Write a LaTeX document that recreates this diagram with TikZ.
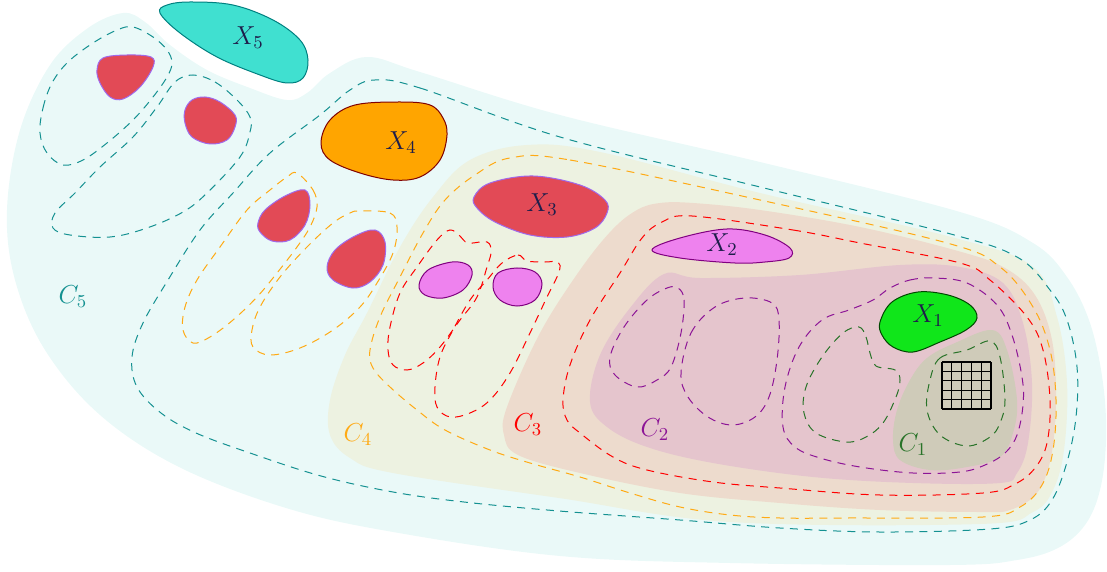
\RequirePackage{fix-cm}
\documentclass[tikz,border=0pt]{standalone}
\definecolor{cfive}{RGB}{234,249,248}
\definecolor{cfour}{RGB}{237,242,225}
\definecolor{cthree}{RGB}{237,219,205}
\definecolor{ctwo}{RGB}{229,197,205}
\definecolor{cone}{RGB}{207,203,185}
\definecolor{tealline}{RGB}{20,145,145}
\definecolor{orline}{RGB}{255,170,20}
\definecolor{vline}{RGB}{140,20,150}
\definecolor{gline}{RGB}{40,115,40}
\definecolor{xlab}{RGB}{30,30,75}
\definecolor{redblob}{RGB}{226,74,86}
\definecolor{redborder}{RGB}{160,105,235}
\definecolor{vblob}{RGB}{238,130,238}
\definecolor{vborder}{RGB}{128,0,128}
\definecolor{gblob}{RGB}{16,230,26}
\definecolor{tblob}{RGB}{64,224,208}
\definecolor{oblob}{RGB}{255,165,0}
\newcommand\shp[2]{\path[#1] plot[smooth cycle, tension=0.6] coordinates {#2};}
\tikzset{
  dsh/.style={line width=0.5pt, dash pattern=on 4pt off 3.2pt},
  blob/.style={line width=0.5pt},
  lab/.style={font=\fontsize{13}{15}\selectfont, text=xlab, inner sep=0pt},
  clab/.style={font=\fontsize{13}{15}\selectfont, inner sep=0pt},
}
\begin{document}
\begin{tikzpicture}[x=0.5pt,y=-0.5pt]
\useasboundingbox (0,0) rectangle (1107,572);
% regions
\shp{fill=cfive}{(123,13) (145,22) (170,45) (207,70) (250,88) (287,100) (307,93) (330,73) (367,57) (420,72) (560,115) (760,162) (960,212) (1033,243) (1067,277) (1090,323) (1103,383) (1106,440) (1100,490) (1085,525) (1058,548) (1017,560) (950,565) (730,563) (560,556) (393,532) (286,508) (179,467) (100,415) (45,350) (15,280) (7,210) (20,130) (50,65) (88,28)}
\shp{fill=cfour}{(527,145) (600,152) (760,193) (955,238) (1033,267) (1057,317) (1067,383) (1064,450) (1053,490) (1033,512) (980,524) (730,522) (559,498) (393,473) (350,458) (330,435) (330,400) (345,355) (367,313) (400,247) (433,197) (470,160)}
\shp{fill=cthree}{(660,203) (693,203) (760,210) (860,227) (958,251) (1005,268) (1035,295) (1052,340) (1056,400) (1051,457) (1037,493) (1010,510) (980,512) (880,510) (780,503) (680,493) (580,473) (518,455) (504,435) (507,407) (540,333) (580,270) (612,230) (637,210)}
\shp{fill=ctwo}{(664,274) (700,278) (800,275) (900,265) (960,267) (1003,283) (1023,323) (1032,383) (1028,443) (1017,473) (1000,483) (913,483) (813,477) (713,463) (647,447) (607,427) (590,402) (600,355) (630,308)}
\shp{fill=cone}{(992,330) (1007,350) (1017,400) (1013,433) (1000,457) (967,467) (930,470) (900,460) (893,440) (897,410) (910,380) (927,358) (955,343)}
% grid
\foreach \i in {0,...,5} {
  \draw[line width=0.55pt] ({942+\i*9.8},362) -- ({942+\i*9.8},409);
  \draw[line width=0.55pt] (942,{362+\i*9.4}) -- (991,{362+\i*9.4});
}
% teal dashed
\shp{draw=tealline,dsh}{(375,80) (420,88) (560,137) (760,187) (947,233) (1017,257) (1050,290) (1067,320) (1077,367) (1076,417) (1067,462) (1052,500) (1030,520) (990,529) (880,532) (780,528) (680,520) (559,511) (464,502) (393,492) (321,476) (250,453) (196,433) (161,413) (137,387) (132,357) (143,323) (168,280) (200,230) (233,193) (270,153) (320,115) (350,90)}
\shp{draw=tealline,dsh}{(40,133) (43,108) (52,83) (68,62) (93,43) (117,30) (133,27) (153,37) (167,50) (172,63) (167,77) (153,97) (133,120) (107,143) (83,160) (63,165) (47,153)}
\shp{draw=tealline,dsh}{(193,75) (215,82) (237,100) (250,117) (250,132) (240,157) (207,193) (183,212) (147,228) (110,237) (70,235) (53,228) (55,213) (75,193) (100,167) (133,137) (157,107) (175,82)}
% orange dashed
\shp{draw=orline,dsh}{(510,158) (570,160) (760,200) (947,243) (1000,267) (1033,307) (1050,350) (1056,400) (1053,450) (1042,485) (1020,507) (983,517) (847,518) (780,518) (730,515) (680,507) (630,493) (580,477) (530,463) (490,450) (445,430) (417,410) (390,387) (373,368) (370,350) (380,317) (400,277) (423,233) (445,200) (475,175)}
\shp{draw=orline,dsh}{(297,173) (313,190) (317,207) (310,227) (297,247) (277,273) (257,297) (233,320) (210,337) (193,343) (183,330) (185,307) (197,280) (220,247) (247,210) (270,190) (287,177)}
\shp{draw=orline,dsh}{(360,211) (390,213) (397,227) (393,253) (377,283) (360,307) (333,330) (300,348) (270,355) (253,347) (252,330) (260,307) (280,277) (307,247) (333,223) (350,213)}
% red dashed
\shp{draw=red,dsh}{(692,216) (793,230) (860,243) (960,263) (990,280) (1027,317) (1043,350) (1050,400) (1047,443) (1035,468) (1015,484) (983,493) (880,495) (780,488) (713,482) (647,470) (613,457) (580,433) (567,420) (563,400) (570,365) (590,320) (620,273) (642,238) (662,222)}
\shp{draw=red,dsh}{(450,230) (460,236) (468,243) (487,242) (491,252) (487,267) (477,297) (460,320) (440,347) (423,363) (407,370) (393,365) (388,350) (390,327) (400,293) (417,267) (437,240)}
\shp{draw=red,dsh}{(502,263) (518,255) (527,261) (545,262) (558,262) (559,272) (547,297) (530,333) (510,373) (490,400) (470,413) (450,417) (437,407) (435,387) (440,357) (453,330) (470,300) (487,280)}
% purple dashed
\shp{draw=vline,dsh}{(890,288) (910,280) (934,278) (967,283) (997,305) (1012,335) (1022,377) (1023,405) (1017,435) (1005,453) (985,465) (960,472) (913,473) (860,467) (820,458) (795,447) (783,427) (785,387) (799,347) (822,320) (849,310) (873,300)}
\shp{draw=vline,dsh}{(678,288) (684,300) (681,333) (671,367) (657,380) (637,387) (615,375) (610,357) (624,327) (647,300) (667,288)}
\shp{draw=vline,dsh}{(681,373) (691,333) (715,307) (745,298) (772,303) (779,320) (777,360) (769,397) (755,417) (732,425) (708,417) (688,397)}
% green dashed
\shp{draw=gline,dsh}{(859,327) (866,337) (870,353) (876,366) (895,370) (900,380) (896,397) (883,423) (866,437) (846,442) (816,433) (804,413) (806,387) (822,357) (843,333)}
\shp{draw=gline,dsh}{(930,380) (940,358) (967,350) (990,341) (1000,357) (1005,400) (1000,423) (990,437) (967,446) (940,435) (927,410)}
% blobs
\shp{fill=tblob,draw=teal,blob}{(160,13) (167,5) (190,2) (233,5) (273,20) (300,40) (308,60) (303,78) (287,83) (260,75) (217,57) (180,33)}
\shp{fill=oblob,draw={rgb,255:red,128;green,0;blue,0},blob}{(321,143) (330,120) (355,105) (400,102) (430,105) (443,118) (447,135) (440,160) (420,177) (393,180) (360,173) (330,160)}
\shp{fill=redblob,draw=redborder,blob}{(474,197) (490,183) (533,176) (580,185) (605,200) (607,213) (595,228) (567,237) (530,235) (495,222) (477,208)}
\shp{fill=vblob,draw=vborder,blob}{(652,250) (680,238) (727,229) (765,235) (790,248) (789,258) (765,262) (735,263) (680,258)}
\shp{fill=gblob,draw={rgb,255:red,0;green,70;blue,0},blob}{(880,322) (892,302) (918,292) (948,295) (970,305) (977,318) (966,330) (940,342) (913,352) (893,347) (882,335)}
\shp{fill=redblob,draw=redborder,blob}{(97,70) (103,58) (127,55) (151,57) (153,67) (140,87) (123,99) (110,97) (100,83)}
\shp{fill=redblob,draw=redborder,blob}{(185,110) (192,100) (205,97) (220,102) (235,115) (235,127) (227,140) (210,144) (192,137) (185,123)}
\shp{fill=redblob,draw=redborder,blob}{(258,223) (265,210) (285,196) (305,190) (310,205) (305,225) (290,240) (272,241) (260,232)}
\shp{fill=redblob,draw=redborder,blob}{(327,267) (335,250) (355,236) (375,230) (385,242) (383,265) (370,282) (353,288) (333,280)}
\shp{fill=vblob,draw=vborder,blob}{(419,285) (428,270) (452,262) (468,265) (472,275) (463,290) (443,298) (425,295)}
\shp{fill=vblob,draw=vborder,blob}{(493,287) (498,273) (517,268) (535,272) (542,284) (535,300) (517,306) (500,300)}
% labels
\node[lab] (x5) at (248,38) {$X_5$};
\node[lab] (x4) at (401,143) {$X_4$};
\node[lab] (x3) at (542,205) {$X_3$};
\node[lab] (x2) at (722,245) {$X_2$};
\node[lab] (x1) at (928,316) {$X_1$};
\node[clab,text=tealline] (c5) at (73,297) {$C_5$};
\node[clab,text=orline] (c4) at (358,435) {$C_4$};
\node[clab,text=red] (c3) at (528,425) {$C_3$};
\node[clab,text=vline] (c2) at (655,430) {$C_2$};
\node[clab,text=gline] (c1) at (913,445) {$C_1$};
\end{tikzpicture}
\end{document}
